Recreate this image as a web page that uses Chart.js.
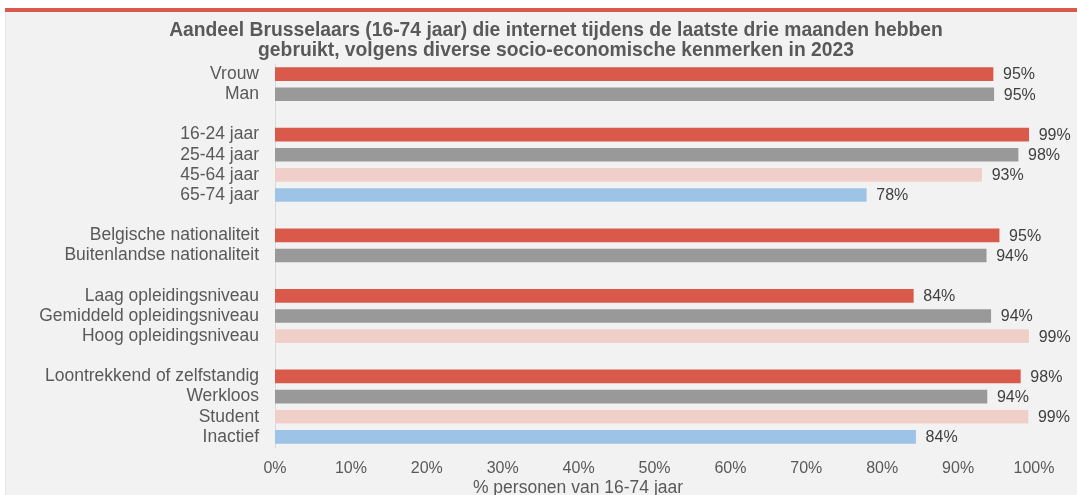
<!DOCTYPE html>
<html>
<head>
<meta charset="utf-8">
<script src="https://cdn.jsdelivr.net/npm/chart.js@4.4.1/dist/chart.umd.min.js"></script>
<style>
  html, body { margin: 0; padding: 0; background: #fff; }
  canvas { display: block; }
</style>
</head>
<body>
<canvas id="chart" width="1077" height="495"></canvas>
<script>
// Categorieën (lege labels = witregel tussen groepen)
const categories = [
  'Vrouw', 'Man', '',
  '16-24 jaar', '25-44 jaar', '45-64 jaar', '65-74 jaar', '',
  'Belgische nationaliteit', 'Buitenlandse nationaliteit', '',
  'Laag opleidingsniveau', 'Gemiddeld opleidingsniveau', 'Hoog opleidingsniveau', '',
  'Loontrekkend of zelfstandig', 'Werkloos', 'Student', 'Inactief'
];

// Aandeel internetgebruikers (%)
const shares = [
  94.6, 94.7, null,
  99.3, 97.9, 93.1, 77.9, null,
  95.4, 93.7, null,
  84.1, 94.3, 99.3, null,
  98.2, 93.8, 99.2, 84.4
];

// As-ticks
const tickValues = [0, 10, 20, 30, 40, 50, 60, 70, 80, 90, 100];

const titleLines = [
  'Aandeel Brusselaars (16-74 jaar) die internet tijdens de laatste drie maanden hebben',
  'gebruikt, volgens diverse socio-economische kenmerken in 2023'
];
const axisTitle = '% personen van 16-74 jaar';

// Kleuren per rij
const RED = '#d9594a', GREY = '#999999', PINK = '#f1cfc9', BLUE = '#9dc3e6';
const rowColors = [
  RED, GREY, null,
  RED, GREY, PINK, BLUE, null,
  RED, GREY, null,
  RED, GREY, PINK, null,
  RED, GREY, PINK, BLUE
];

const FONT = '"Liberation Sans", Arial, sans-serif';

// Achtergrondpaneel + rode lijn bovenaan
const framePlugin = {
  id: 'frame',
  beforeDraw(chart) {
    const ctx = chart.ctx;
    ctx.save();
    ctx.fillStyle = '#ffffff';
    ctx.fillRect(0, 0, chart.width, chart.height);
    ctx.fillStyle = '#f2f2f2';
    ctx.fillRect(5, 12, chart.width - 5, chart.height - 12);
    ctx.fillStyle = '#e6e6e6';
    ctx.fillRect(5, 12, 1, chart.height - 12);
    ctx.fillStyle = RED;
    ctx.fillRect(5, 8, chart.width - 5, 4);
    ctx.restore();
  }
};

// Titel, astitel en waardelabels
const textPlugin = {
  id: 'texts',
  afterDatasetsDraw(chart) {
    const ctx = chart.ctx;
    ctx.save();
    ctx.fillStyle = '#595959';
    ctx.textAlign = 'center';
    ctx.textBaseline = 'alphabetic';
    ctx.font = 'bold 19.3px ' + FONT;
    ctx.fillText(titleLines[0], 556, 36);
    ctx.fillText(titleLines[1], 556, 56);

    ctx.font = '17.5px ' + FONT;
    ctx.textBaseline = 'middle';
    ctx.fillText(axisTitle, 578, 488);

    ctx.fillStyle = '#404040';
    ctx.textAlign = 'left';
    ctx.font = '16px ' + FONT;
    const meta = chart.getDatasetMeta(0);
    meta.data.forEach((bar, i) => {
      const v = shares[i];
      if (v == null) return;
      ctx.fillText(Math.round(v) + '%', bar.x + 10, bar.y + 1);
    });
    ctx.restore();
  }
};

new Chart(document.getElementById('chart'), {
  type: 'bar',
  data: {
    labels: categories,
    datasets: [{
      data: shares,
      backgroundColor: rowColors.map(c => c || 'transparent'),
      barThickness: 13,
      borderWidth: 0
    }]
  },
  options: {
    indexAxis: 'y',
    responsive: false,
    animation: false,
    layout: { padding: { top: 64, right: 43, bottom: 0, left: 0 } },
    plugins: {
      legend: { display: false },
      tooltip: { enabled: false },
      title: { display: false }
    },
    scales: {
      x: {
        min: 0,
        max: 100,
        afterBuildTicks: scale => { scale.ticks = tickValues.map(v => ({ value: v })); },
        afterFit: scale => { scale.height = 48; },
        grid: { display: false, drawTicks: false },
        border: { display: false },
        ticks: {
          callback: v => v + '%',
          color: '#595959',
          font: { family: FONT, size: 16 },
          padding: 12,
          maxRotation: 0
        }
      },
      y: {
        afterFit: scale => { scale.width = 275; },
        grid: { display: false, drawTicks: false },
        border: { display: true, color: '#d9d9d9', width: 1 },
        ticks: {
          color: '#595959',
          font: { family: FONT, size: 17.5 },
          padding: 16,
          autoSkip: false
        }
      }
    }
  },
  plugins: [framePlugin, textPlugin]
});
</script>
</body>
</html>
